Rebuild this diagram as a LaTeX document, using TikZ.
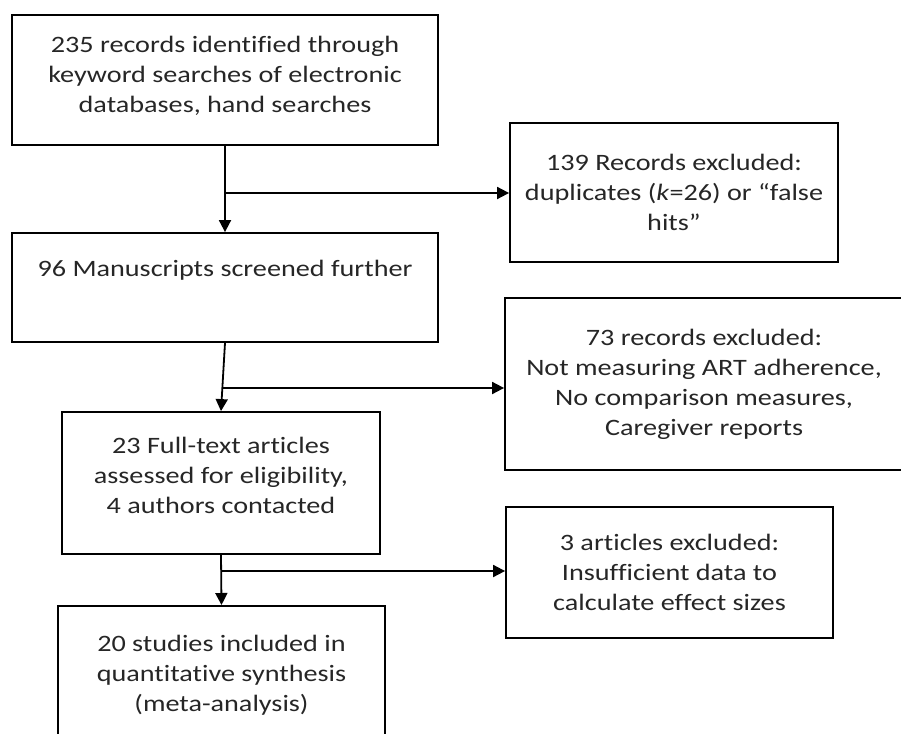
\documentclass[tikz,border=0pt]{standalone}
\usepackage{fontspec}
\setmainfont{Carlito}[FakeStretch=1.2,Ligatures={NoCommon}]
\usetikzlibrary{arrows.meta}
\begin{document}
\begin{tikzpicture}[x=1pt,y=-1pt,
  box/.style={draw=black,line width=1.8pt,align=center,inner sep=0pt,
    text=black!85,font=\fontsize{23.5}{30}\selectfont},
  arr/.style={line width=1.8pt,-{Triangle[length=12pt,width=12pt]}}]
\useasboundingbox (0,0) rectangle (901,733);
\clip (0,0) rectangle (901,733);
\node[box,minimum width=426pt,minimum height=130pt] (b1) at (225,80)
  {\mbox{}\\[-22pt]235 records identified through\\keyword searches of electronic\\databases, hand searches};
\node[box,minimum width=328pt,minimum height=139pt] (b2) at (674,192.5)
  {139 Records excluded:\\duplicates (\emph{k}=26) or ``false\\hits''};
\node[box,minimum width=426pt,minimum height=109pt] (b3) at (225,287.5)
  {96 Manuscripts screened further\\\strut};
\node[box,minimum width=398pt,minimum height=172pt] (b5) at (704,384)
  {73 records excluded:\\Not measuring ART adherence,\\No comparison measures,\\Caregiver reports};
\node[box,minimum width=318pt,minimum height=142pt] (b4) at (221,483)
  {23 Full-text articles\\assessed for eligibility,\\4 authors contacted\\[-14pt]\mbox{}};
\node[box,minimum width=327pt,minimum height=131pt] (b6) at (669.5,572.5)
  {3 articles excluded:\\Insufficient data to\\calculate effect sizes};
\node[box,minimum width=327pt,minimum height=138pt,anchor=north] (b7) at (221.5,605)
  {20 studies included in\\quantitative synthesis\\(meta-analysis)};
\coordinate (j1) at (225,193);
\coordinate (j2) at (223,388);
\coordinate (j3) at (221,571);
\draw[arr] (b1.south) -- (b3.north);
\draw[arr] (j1) -- (j1 -| b2.west);
\draw[arr] (b3.south) -- (b4.north);
\draw[arr] (j2) -- (j2 -| b5.west);
\draw[arr] (b4.south) -- (b7.north);
\draw[arr] (j3) -- (j3 -| b6.west);
\end{tikzpicture}
\end{document}
